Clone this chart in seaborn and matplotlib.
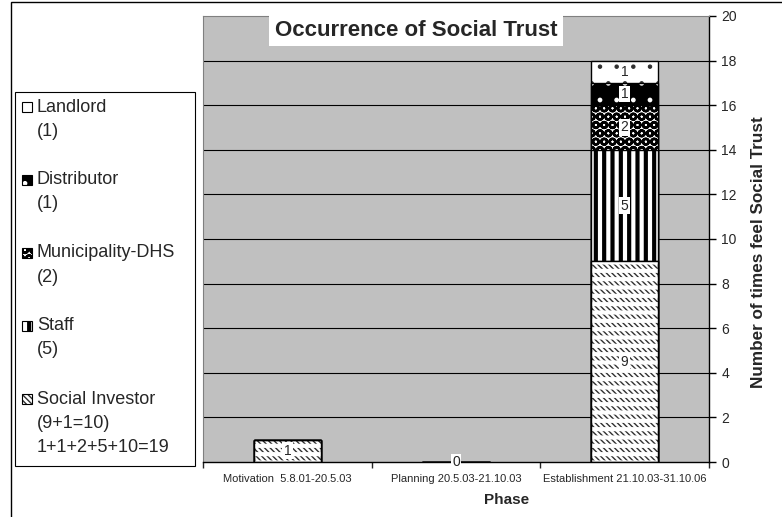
import pandas as pd
import matplotlib.pyplot as plt
import matplotlib.patches as mpatches
import matplotlib.colors as mcolors
import seaborn as sns

# Data
phases = ["Motivation  5.8.01-20.5.03", "Planning 20.5.03-21.10.03", "Establishment 21.10.03-31.10.06"]
series = ["Social Investor", "Staff", "Municipality-DHS", "Distributor", "Landlord"]
social_investor = [1, 0, 9]
staff = [0, 0, 5]
municipality = [0, 0, 2]
distributor = [0, 0, 1]
landlord = [0, 0, 1]
legend_notes = {
    "Landlord": ["(1)"],
    "Distributor": ["(1)"],
    "Municipality-DHS": ["(2)"],
    "Staff": ["(5)"],
    "Social Investor": ["(9+1=10)", "1+1+2+5+10=19"],
}

values = [social_investor, staff, municipality, distributor, landlord]
rows = []
for name, vals in zip(series, values):
    for ph, v in zip(phases, vals):
        rows.append({"phase": ph, "series": name, "value": v})
df = pd.DataFrame(rows)
df["cum"] = df.groupby("phase")["value"].cumsum()
df["base"] = df["cum"] - df["value"]

# fill styles: face, hatch, hatch colour, hatch width
styles = {
    "Social Investor": ("white", "\\\\\\\\\\\\", "#303030", 1.0),
    "Staff": ("white", "||", "black", 3.0),
    "Municipality-DHS": ("white", "OO", "black", 1.8),
    "Distributor": ("black", ".", "white", 1.0),
    "Landlord": ("white", ".", "#303030", 0.8),
}

sns.set_style("white")
plt.rcParams["font.family"] = ["Liberation Sans", "DejaVu Sans"]

fig = plt.figure(figsize=(7.82, 5.17), dpi=100)
ax = fig.add_axes([203 / 782, 1 - 462 / 517, 506 / 782, 446 / 517])
ax.set_facecolor("#C0C0C0")

# chart area border (only top and left edges are inside the picture)
fig.patches.append(mpatches.Rectangle((11 / 782, -0.1), 1.2, 1.1 - 1.5 / 517,
                                      transform=fig.transFigure, fill=False,
                                      edgecolor="black", linewidth=1))

for y in range(2, 20, 2):
    ax.axhline(y, color="black", linewidth=0.8, zorder=0.5)


def apply_style(p, face, hatch, hcol, hlw, edge="black"):
    p.set_facecolor(face)
    p.set_hatch(hatch)
    p.set_edgecolor(edge)
    p.set_linewidth(1.0)
    p._hatch_color = mcolors.to_rgba(hcol)
    if hasattr(p, "set_hatch_linewidth"):
        p.set_hatch_linewidth(hlw)


# stacked bars drawn as overlaid cumulative totals, top segment first
for name in reversed(series):
    sub = df[df["series"] == name]
    n0 = len(ax.patches)
    with plt.rc_context({"hatch.linewidth": styles[name][3]}):
        sns.barplot(data=sub, x="phase", y="cum", order=phases, width=0.4,
                    ax=ax, zorder=2)
        for p in ax.patches[n0:]:
            apply_style(p, *styles[name])
    if name == "Social Investor":
        # white horizontal bands break the diagonals into short dashes
        n0 = len(ax.patches)
        with plt.rc_context({"hatch.linewidth": 3.0}):
            sns.barplot(data=sub, x="phase", y="cum", order=phases, width=0.4,
                        ax=ax, zorder=2.1)
            for p in ax.patches[n0:]:
                apply_style(p, "none", "--", "white", 3.0)

# value labels
box = dict(facecolor="white", edgecolor="none", pad=1)
for i, ph in enumerate(phases):
    sub = df[df["phase"] == ph]
    if sub["value"].sum() == 0:
        ax.text(i, 0, "0", ha="center", va="center", fontsize=10, zorder=5, bbox=box)
    for _, r in sub.iterrows():
        if r["value"] > 0:
            ax.text(i, r["base"] + r["value"] / 2, str(r["value"]), ha="center",
                    va="center", fontsize=10, zorder=5, bbox=box)

ax.set_xlim(-0.5, 2.5)
ax.set_ylim(0, 20)
ax.set_yticks(range(0, 21, 2))
ax.yaxis.tick_right()
ax.yaxis.set_label_position("right")
ax.tick_params(axis="y", right=True, length=5, width=1, labelsize=10, pad=4, color="black")
ax.tick_params(axis="x", which="major", length=0, labelsize=8, pad=9)
ax.set_xticks([-0.5, 0.5, 1.5, 2.5], minor=True)
ax.tick_params(axis="x", which="minor", bottom=True, length=4, width=1)
ax.set_xlabel("Phase", fontsize=11, fontweight="bold")
ax.xaxis.set_label_coords((507 - 203) / 506, -31 / 446)
ax.set_ylabel("Number of times feel Social Trust", fontsize=12.3, fontweight="bold")
ax.yaxis.set_label_coords((751 - 203) / 506, (462 - 252) / 446)

for side in ["left", "top"]:
    ax.spines[side].set_color("#808080")
for side in ["right", "bottom"]:
    ax.spines[side].set_color("black")
    ax.spines[side].set_linewidth(1)

fig.text(416 / 782, 1 - 30 / 517, "Occurrence of Social Trust", ha="center", va="center",
         fontsize=16, fontweight="bold",
         bbox=dict(facecolor="white", edgecolor="none", pad=4))

# legend box drawn by hand so the swatch sits on the first text line
W, H = 782, 517
fig.patches.append(mpatches.Rectangle((15 / W, 1 - 466 / H), 180 / W, 374 / H,
                                      transform=fig.transFigure, facecolor="white",
                                      edgecolor="black", linewidth=0.8))
for k, name in enumerate(reversed(series)):
    y0 = 107 + 73 * k
    sw = mpatches.Rectangle((22 / W, 1 - (y0 + 5) / H), 10 / W, 10 / H,
                            transform=fig.transFigure)
    apply_style(sw, *styles[name])
    sw.set_linewidth(0.8)
    fig.patches.append(sw)
    lines = [name] + legend_notes[name]
    for j, line in enumerate(lines):
        fig.text(37 / W, 1 - (y0 + 24 * j) / H, line, ha="left", va="center", fontsize=13)

fig.savefig("out.png", dpi=100)
